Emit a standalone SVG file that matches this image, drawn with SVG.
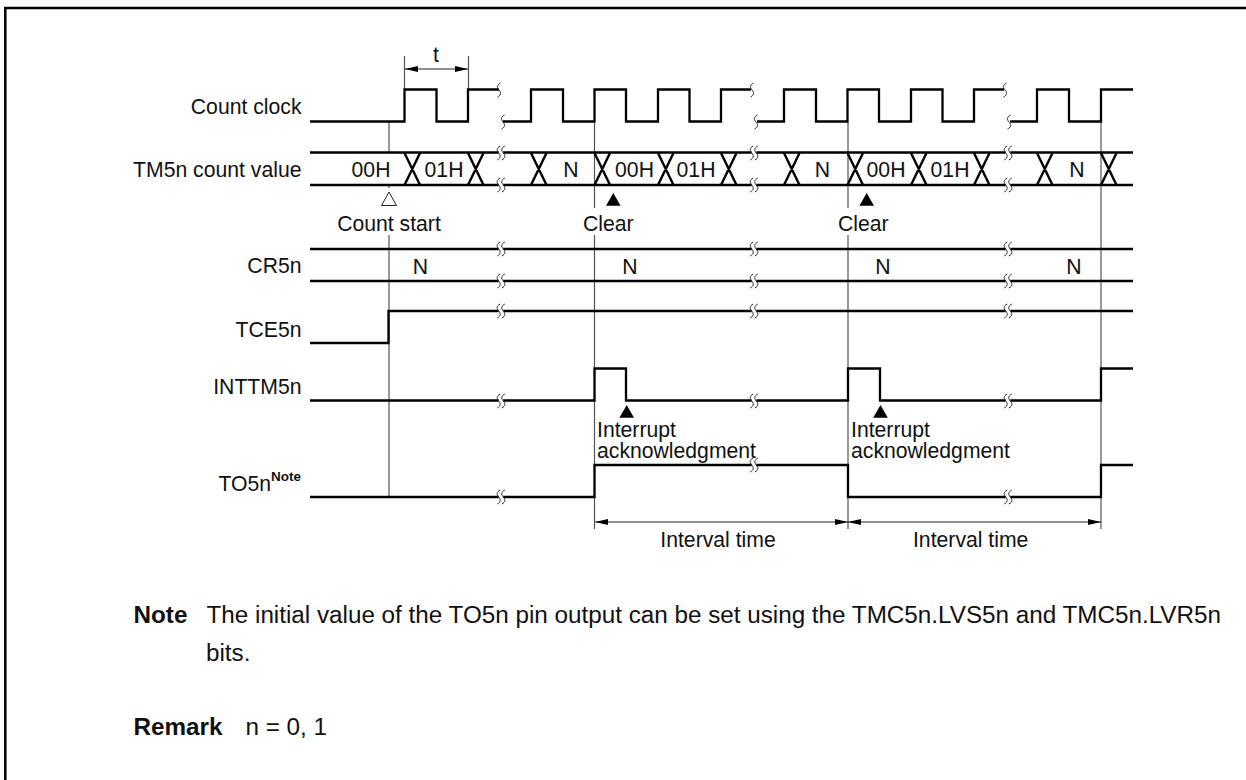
<svg xmlns="http://www.w3.org/2000/svg" width="1246" height="780" viewBox="0 0 1246 780">
<style>
text{font-family:"Liberation Sans",Arial,sans-serif;font-size:21.2px;fill:#111}
.n{font-size:24.25px}
.h{font-weight:bold}
.s{fill:none;stroke:#000;stroke-width:2.3}
.x{fill:none;stroke:#000;stroke-width:2.4}
.t{fill:none;stroke:#555;stroke-width:1.2}
.b{fill:none;stroke:#222;stroke-width:1}
.m{text-anchor:middle}
.r{text-anchor:end}
</style>
<defs>
<path id="brk" d="M1.500 -7C-2.500 -5 -2 -2 0 0C2 2 2.500 5 -1.500 7" fill="none" stroke="#222" stroke-width="1"/>
<g id="dbl"><rect x="-2.300" y="-4" width="4.600" height="8" fill="#fff"/><use href="#brk" x="-2.300"/><use href="#brk" x="2.300"/></g>
<path id="tri" d="M0 -6.500L7.300 6.200H-7.300Z" fill="#000"/>
</defs>
<path d="M1246 8H5.300V780" fill="none" stroke="#000" stroke-width="2.500"/>
<g id="connectors">
<path class="t" d="M389 122V152M389 185V188M389 235V497M594.500 122V208M594.500 235V529M848 122V208M848 235V529M1101 122V529M404.500 56V90M468.500 56V90"/>
<path class="b" d="M405 69H468M595 522H848M848 522H1101"/>
<path d="M405 69L418 66V72ZM468 69L455 66V72ZM595 522L608 519V525ZM848 522L835 519V525ZM848 522L861 519V525ZM1101 522L1088 519V525Z" fill="#000"/>
</g>
<g id="count-clock">
<path class="s" d="M310 121.500H404.500V89.500H436.500V121.500H468V89.500H499M503 121.500H531V89.500H563V121.500H594.500V89.500H626V121.500H658V89.500H689.500V121.500H721V89.500H751M757 121.500H784V89.500H816V121.500H847.500V89.500H879V121.500H911V89.500H942.500V121.500H974V89.500H1004M1010 121.500H1037V89.500H1069V121.500H1101V89.500H1133"/>
<use href="#brk" x="499" y="90"/><use href="#brk" x="503" y="122"/><use href="#brk" x="752" y="90"/><use href="#brk" x="756" y="122"/><use href="#brk" x="1005" y="90"/><use href="#brk" x="1009" y="122"/>
</g>
<g id="tm5n">
<path class="s" d="M310 152.500H1133M310 185H1133"/>
<path class="x" d="M404.500 153L420 185M420 153L404.500 185M468 153L483.500 185M483.500 153L468 185M531 153L546.500 185M546.500 153L531 185M594.500 153L610 185M610 153L594.500 185M658 153L673.500 185M673.500 153L658 185M721 153L736.500 185M736.500 153L721 185M784 153L799.500 185M799.500 153L784 185M847.500 153L863 185M863 153L847.500 185M911 153L926.500 185M926.500 153L911 185M974 153L989.500 185M989.500 153L974 185M1037 153L1052.500 185M1052.500 153L1037 185M1101 153L1116.500 185M1116.500 153L1101 185"/>
<use href="#dbl" x="501" y="153"/><use href="#dbl" x="501" y="185"/><use href="#dbl" x="754" y="153"/><use href="#dbl" x="754" y="185"/><use href="#dbl" x="1008" y="153"/><use href="#dbl" x="1008" y="185"/>
<text class="m" x="371" y="177">00H</text><text class="m" x="444" y="177">01H</text><text class="m" x="571" y="177">N</text><text class="m" x="634.500" y="177">00H</text><text class="m" x="696" y="177">01H</text><text class="m" x="822.500" y="177">N</text><text class="m" x="886" y="177">00H</text><text class="m" x="950" y="177">01H</text><text class="m" x="1077" y="177">N</text>
</g>
<g id="cr5n">
<path class="s" d="M310 249H1133M310 281H1133"/>
<use href="#dbl" x="501" y="249"/><use href="#dbl" x="501" y="281"/><use href="#dbl" x="754" y="249"/><use href="#dbl" x="754" y="281"/><use href="#dbl" x="1008" y="249"/><use href="#dbl" x="1008" y="281"/>
<text class="m" x="420.500" y="274">N</text><text class="m" x="630" y="274">N</text><text class="m" x="883" y="274">N</text><text class="m" x="1074" y="274">N</text>
</g>
<g id="tce5n">
<path class="s" d="M310 343H388.500V311H1133"/>
<use href="#dbl" x="501" y="311"/><use href="#dbl" x="754" y="311"/><use href="#dbl" x="1008" y="311"/>
</g>
<g id="inttm5n">
<path class="s" d="M310 400.500H594.500V368.500H626V400.500H848V368.500H880V400.500H1101V368.500H1133"/>
<use href="#dbl" x="501" y="401"/><use href="#dbl" x="754" y="401"/><use href="#dbl" x="1008" y="401"/>
</g>
<g id="to5n">
<path class="s" d="M310 497H594.500V465H848V497H1101V465H1133"/>
<use href="#dbl" x="501" y="497"/><use href="#dbl" x="754" y="465"/><use href="#dbl" x="1008" y="497"/>
</g>
<g id="labels">
<text class="r" x="301.500" y="114">Count clock</text>
<text class="r" x="301.500" y="177">TM5n count value</text>
<text class="r" x="301.500" y="273">CR5n</text>
<text class="r" x="301.500" y="337">TCE5n</text>
<text class="r" x="301.500" y="394">INTTM5n</text>
<text x="218.500" y="491">TO5n<tspan class="h" style="font-size:13.500px" dy="-10">Note</tspan></text>
<text class="m" x="436" y="62">t</text>
<path d="M389 192L396.500 205.500H381.500Z" fill="#fff" stroke="#222"/>
<text class="m" x="389" y="231">Count start</text>
<use href="#tri" x="613.300" y="199.500"/><use href="#tri" x="866.700" y="199.500"/>
<use href="#tri" x="626.700" y="411.500"/><use href="#tri" x="880.500" y="411.500"/>
<text class="m" x="608.300" y="231">Clear</text>
<text class="m" x="863.300" y="231">Clear</text>
<text x="597" y="437">Interrupt</text><text x="597" y="458">acknowledgment</text>
<text x="851" y="437">Interrupt</text><text x="851" y="458">acknowledgment</text>
<text class="m" x="718" y="547">Interval time</text>
<text class="m" x="970.700" y="547">Interval time</text>
<text class="n h" x="133.500" y="623">Note</text>
<text class="n" x="206.500" y="623" textLength="1014.500">The initial value of the TO5n pin output can be set using the TMC5n.LVS5n and TMC5n.LVR5n</text>
<text class="n" x="206" y="661">bits.</text>
<text class="n h" x="133.500" y="735">Remark</text>
<text class="n" x="245.500" y="735">n = 0, 1</text>
</g>
</svg>
